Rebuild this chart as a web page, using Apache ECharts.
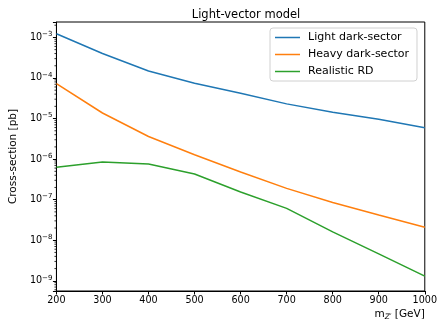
<!DOCTYPE html>
<html>
<head>
<meta charset="utf-8">
<script src="https://cdn.jsdelivr.net/npm/echarts@6/dist/echarts.min.js"></script>
<style>
html, body { margin: 0; padding: 0; background: #fff; }
#chart { width: 440px; height: 322px; }
</style>
</head>
<body>
<div id="chart"></div>
<script>
// m_Z' mass points [GeV]
const masses = [200, 300, 400, 500, 600, 700, 800, 900, 1000];
// cross-sections [pb]
const lightDark = [1.23e-3, 4.0e-4, 1.49e-4, 7.4e-5, 4.2e-5, 2.3e-5, 1.43e-5, 9.6e-6, 5.9e-6];
const heavyDark = [7.3e-5, 1.37e-5, 3.6e-6, 1.28e-6, 4.8e-7, 1.9e-7, 8.5e-8, 4.2e-8, 2.1e-8];
const realisticRD = [6.3e-7, 8.5e-7, 7.6e-7, 4.3e-7, 1.55e-7, 6.1e-8, 1.6e-8, 4.6e-9, 1.3e-9];
const seriesNames = ['Light dark-sector', 'Heavy dark-sector', 'Realistic RD'];
const colors = ['#1f77b4', '#ff7f0e', '#2ca02c'];

const yMin = 5.6e-10;
const yMax = 2.4e-3;
const xMin = 200;

// matplotlib style minor ticks (2..9 x 10^k)
const minorTicks = [];
for (let k = -10; k <= -3; k++) {
    for (let m = 2; m <= 9; m++) {
        const v = m * Math.pow(10, k);
        if (v > yMin && v < yMax) minorTicks.push(v);
    }
}

const font = 'DejaVu Sans';

const chart = echarts.init(document.getElementById('chart'));

function pairs(vals) {
    return masses.map((m, i) => [m, vals[i]]);
}

const option = {
    animation: false,
    textStyle: { fontFamily: font },
    title: {
        text: 'Light-vector model',
        left: 241,
        textAlign: 'center',
        top: 4,
        textStyle: { fontFamily: font, fontSize: 11.5, fontWeight: 'normal', color: '#000' }
    },
    legend: {
        data: seriesNames,
        orient: 'vertical',
        left: 270,
        top: 28,
        icon: 'rect',
        itemWidth: 25,
        itemHeight: 1.5,
        itemGap: 6,
        padding: [4, 8, 4, 5],
        borderColor: '#d0d0d0',
        borderWidth: 1,
        borderRadius: 3,
        backgroundColor: 'rgba(255,255,255,0.8)',
        textStyle: { fontFamily: font, fontSize: 11, color: '#000', padding: [0, 0, 0, 3] }
    },
    grid: {
        left: 55,
        right: 13,
        top: 22,
        bottom: 31,
        show: true,
        borderColor: '#000',
        borderWidth: 1,
        containLabel: false
    },
    xAxis: {
        type: 'value',
        min: 200,
        max: 1000,
        interval: 100,
        name: '{m|m}{s|Z′} [GeV]',
        nameLocation: 'end',
        nameGap: 0,
        nameTextStyle: {
            align: 'right',
            verticalAlign: 'top',
            padding: [16, 0, 0, 0],
            fontFamily: font,
            fontSize: 10.5,
            color: '#000',
            rich: {
                m: { fontFamily: font, fontSize: 10.5, color: '#000' },
                s: { fontFamily: font, fontSize: 7.5, fontStyle: 'italic', color: '#000', padding: [6, 0, 0, 0] }
            }
        },
        axisLine: { show: true, onZero: false, lineStyle: { color: '#000', width: 1 } },
        axisTick: { show: true, inside: false, length: 3.5, lineStyle: { color: '#000' } },
        axisLabel: {
            fontFamily: font,
            fontSize: 9.6,
            color: '#000',
            margin: 4,
            formatter: v => String(v)
        },
        splitLine: { show: false }
    },
    yAxis: {
        type: 'log',
        logBase: 10,
        min: yMin,
        max: yMax,
        name: 'Cross-section [pb]',
        nameLocation: 'middle',
        nameGap: 33,
        nameTextStyle: { fontFamily: font, fontSize: 10.5, color: '#000' },
        axisLine: { show: true, onZero: false, lineStyle: { color: '#000', width: 1 } },
        axisTick: { show: true, inside: false, length: 3.5, lineStyle: { color: '#000' } },
        axisLabel: {
            fontFamily: font,
            fontSize: 9.6,
            color: '#000',
            margin: 4,
            formatter: function (v) {
                const e = Math.log10(v);
                const r = Math.round(e);
                if (Math.abs(e - r) > 0.01) return '';
                return '{b|10}{s|' + (r < 0 ? '−' + (-r) : r) + '}';
            },
            rich: {
                b: { fontFamily: font, fontSize: 9.6, color: '#000' },
                s: { fontFamily: font, fontSize: 7, color: '#000', padding: [0, 0, 6, 0] }
            }
        },
        splitLine: { show: false }
    },
    series: [
        {
            name: seriesNames[0],
            type: 'line',
            data: pairs(lightDark),
            symbol: 'none',
            lineStyle: { color: colors[0], width: 1.5 },
            itemStyle: { color: colors[0] }
        },
        {
            name: seriesNames[1],
            type: 'line',
            data: pairs(heavyDark),
            symbol: 'none',
            lineStyle: { color: colors[1], width: 1.5 },
            itemStyle: { color: colors[1] }
        },
        {
            name: seriesNames[2],
            type: 'line',
            data: pairs(realisticRD),
            symbol: 'none',
            lineStyle: { color: colors[2], width: 1.5 },
            itemStyle: { color: colors[2] }
        },
        {
            type: 'custom',
            silent: true,
            clip: false,
            data: minorTicks.map(v => [xMin, v]),
            renderItem: function (params, api) {
                const p = api.coord([api.value(0), api.value(1)]);
                return {
                    type: 'line',
                    shape: { x1: p[0] - 2, y1: p[1], x2: p[0], y2: p[1] },
                    style: { stroke: '#000', lineWidth: 0.8 }
                };
            }
        }
    ]
};
chart.setOption(option);
</script>
</body>
</html>
